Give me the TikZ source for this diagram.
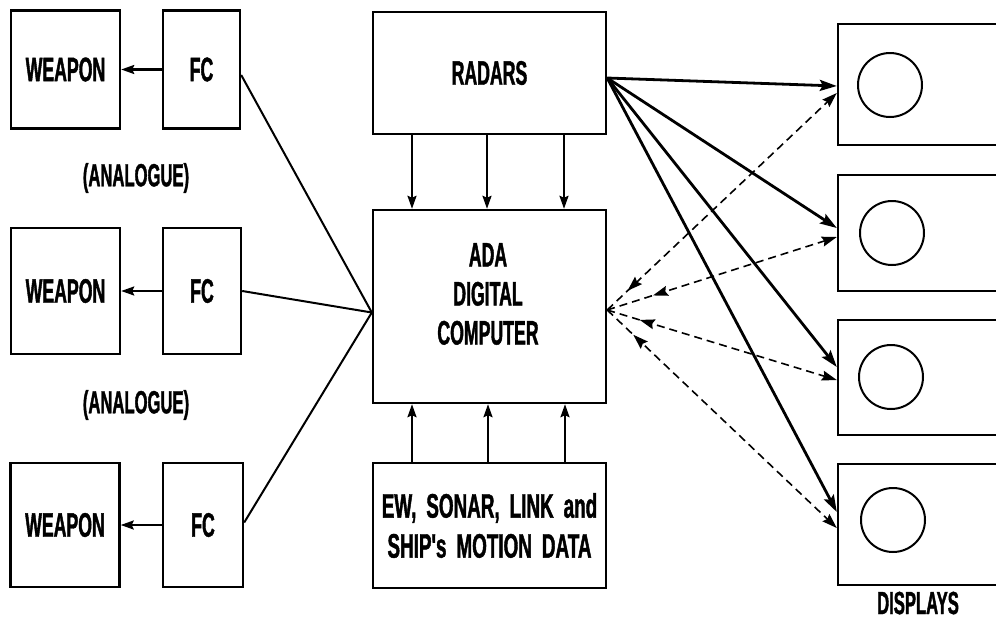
\documentclass[tikz,border=0pt]{standalone}
\usepackage{fontspec}
\newfontfamily\diafont{Liberation Sans}[FakeStretch=0.52, FakeBold=1.2]
\newfontfamily\datafont{Liberation Sans}[FakeStretch=0.555, WordSpace=1.9, FakeBold=1.2]
\usetikzlibrary{arrows.meta,decorations.markings}

\begin{document}
\begin{tikzpicture}[x=1pt,y=-1pt,
  box/.style={draw, line width=2.4pt, rectangle, inner sep=0pt},
  lbl/.style={font=\diafont\bfseries\fontsize{34}{39}\selectfont, align=center, inner sep=0pt},
  datalbl/.style={font=\datafont\bfseries\fontsize{34}{40}\selectfont, align=center, inner sep=0pt},
  small/.style={font=\diafont\bfseries\fontsize{32}{36}\selectfont, inner sep=0pt},
  tip/.style={-{Stealth[length=13pt,width=9pt,inset=2pt]}},
  feed/.style={line width=2.2pt, tip},
  fcline/.style={line width=2pt},
  radline/.style={line width=2.8pt, -{Stealth[length=17pt,width=11pt,inset=3pt]}},
  dline/.style={line width=1.6pt, dash pattern=on 8pt off 5pt,
    -{Stealth[length=15pt,width=10pt,inset=2pt]},
    postaction={decorate},
    decoration={markings, mark=at position #1 with {\arrowreversed[solid]{Stealth[length=15pt,width=10pt,inset=2pt]}}}},
  screen/.style={draw, circle, line width=2pt, minimum size=64pt, inner sep=0pt}]

\useasboundingbox (0,0) rectangle (996,619);

% weapons and fire control
\node[box, lbl, minimum width=109pt, minimum height=118pt] (w1) at (65.5,69.5) {WEAPON};
\node[box, lbl, minimum width=77pt, minimum height=118pt] (fc1) at (201.5,69.5) {FC};
\node[box, lbl, minimum width=109pt, minimum height=126pt] (w2) at (65.5,291) {WEAPON};
\node[box, lbl, minimum width=78pt, minimum height=126pt] (fc2) at (202,291) {FC};
\node[box, lbl, minimum width=109pt, minimum height=124pt] (w3) at (65,525) {WEAPON};
\node[box, lbl, minimum width=80pt, minimum height=124pt] (fc3) at (203,525) {FC};
\node[small] (an1) at (136,178) {(ANALOGUE)};
\node[small] (an2) at (136,405) {(ANALOGUE)};

\draw[feed] (fc1.west) -- (w1.east);
\draw[feed] (fc2.west) -- (w2.east);
\draw[feed] (fc3.west) -- (w3.east);

% central column
\node[box, lbl, minimum width=233pt, minimum height=122pt] (radars) at (489.5,73) {RADARS};
\node[box, minimum width=233pt, minimum height=193pt] (comp) at (489.5,306.5) {};
\node[lbl] (comptext) at (488,294) {ADA\\DIGITAL\\COMPUTER};
\node[box, datalbl, minimum width=233pt, minimum height=125pt] (data) at (489.5,525.5) {EW, SONAR, LINK and\\SHIP's MOTION DATA};

\foreach \dx in {-77.5,-2.5,74.5}
  \draw[feed] ([xshift=\dx pt]radars.south) -- ([xshift=\dx pt]comp.north);
\foreach \dx in {-77.5,-1.5,75.5}
  \draw[feed] ([xshift=\dx pt]data.north) -- ([xshift=\dx pt]comp.south);

% fire control links
\coordinate (cin) at ([yshift=-6pt]comp.west);
\draw[fcline] ([yshift=-5.5pt]fc1.east) -- (cin);
\draw[fcline] (fc2.east) -- (cin);
\draw[fcline] ([yshift=2.5pt]fc3.east) -- (cin);

% displays
\node[box, minimum width=166pt, minimum height=121pt] (d1) at (921,84.5) {};
\node[box, minimum width=166pt, minimum height=116pt] (d2) at (921,233) {};
\node[box, minimum width=166pt, minimum height=115pt] (d3) at (921,377.5) {};
\node[box, minimum width=166pt, minimum height=121pt] (d4) at (921,524.5) {};
\node[screen] (c1) at (890,85) {};
\node[screen] (c2) at (892,233) {};
\node[screen] (c3) at (891,377) {};
\node[screen] (c4) at (893,520) {};
\node[small] (disp) at (918,603) {DISPLAYS};

% radar feeds to displays
\coordinate (rout) at ([yshift=-5pt]radars.east);
\draw[radline] (rout) -- ([yshift=-1.5pt]d1.west);
\draw[radline] (rout) -- ([yshift=5pt]d2.west);
\draw[radline] (rout) -- ([yshift=10.5pt]d3.west);
\draw[radline] (rout) -- ([yshift=12.5pt]d4.west);

% two-way computer links to displays
\coordinate (cout) at ([yshift=-3.5pt]comp.east);
\draw[dline=28pt] (cout) -- ([yshift=-8.5pt]d1.west);
\draw[dline=48pt] (cout) -- ([yshift=-4pt]d2.west);
\draw[dline=34pt] (cout) -- ([yshift=-2.5pt]d3.west);
\draw[dline=36pt] (cout) -- ([yshift=-3.5pt]d4.west);

\end{tikzpicture}
\end{document}
